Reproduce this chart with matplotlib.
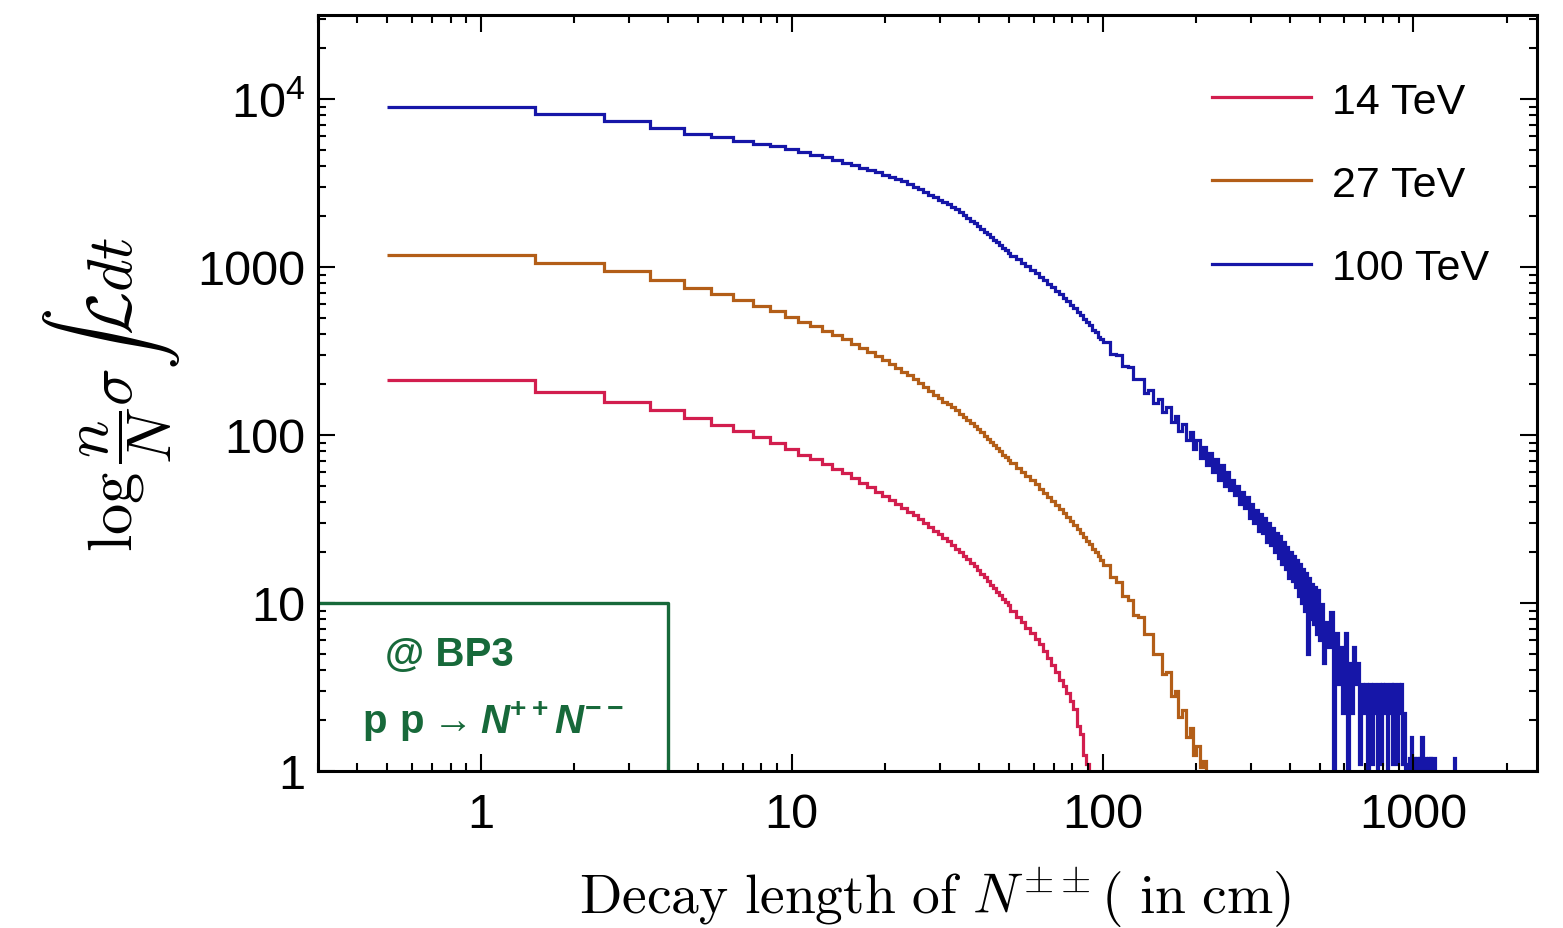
import numpy as np
import matplotlib
matplotlib.use("Agg")
import matplotlib.pyplot as plt
from matplotlib.ticker import NullFormatter

plt.rcParams['font.family'] = ['Liberation Sans', 'DejaVu Sans']
plt.rcParams['mathtext.fontset'] = 'cm'
plt.rcParams['mathtext.rm'] = 'Liberation Sans'
plt.rcParams['mathtext.bf'] = 'Liberation Sans:bold'
plt.rcParams['mathtext.bfit'] = 'Liberation Sans:italic:bold'

# bin edges (cm): width 1 up to 50, then 2, 5, 5, 10
edges = np.concatenate([np.arange(0.5, 50.6, 1), np.arange(52.5, 100.6, 2),
                        np.arange(105.5, 250.6, 5), np.arange(255.5, 500.6, 5),
                        np.arange(510.5, 1460.6, 10)])

# counts per bin
red_14 = [212, 180, 157, 140, 126, 115, 106, 97, 89, 82,
          76.5, 71.5, 67, 63, 59, 55.5, 52, 49, 46, 43.5,
          41, 39, 37, 35, 33.2, 31.5, 29.9, 28.4, 27, 25.7,
          24.5, 23.3, 22.2, 21.1, 20.1, 19.1, 18.2, 17.3, 16.5, 15.7,
          14.9, 14.2, 13.5, 12.8, 12.2, 11.6, 11.1, 10.6, 10.1, 9.7,
          9.0, 8.3, 7.7, 7.1, 6.6, 6.1, 5.7, 5.2, 4.7, 4.3,
          3.9, 3.5, 3.2, 2.9, 2.6, 2.35, 1.85, 1.65, 1.25, 1.1, 0]

orange_27 = [1180, 1055, 945, 835, 750, 688, 634, 587, 544, 505,
             472, 443, 417, 393, 371, 350, 331, 313, 296, 280,
             265, 251, 238, 226, 214, 203, 193, 183, 174, 165,
             158, 152, 146, 140, 134, 128, 123, 118, 113, 108,
             103.5, 99, 95, 91, 87, 83.5, 80, 76.5, 73.5, 70.5,
             68, 64, 60.5, 57, 54, 51, 48, 45, 42.5, 40.3,
             38.2, 36.2, 34.3, 32.5, 30.8, 29.2, 27.7, 26.2, 24.8, 23.5,
             22.3, 21.1, 20, 19, 18,
             16.8, 14.2, 13.3, 11.0, 10.4, 8.5, 8.2, 6.5, 6.5, 5.0,
             5.0, 3.8, 3.9, 2.8, 3.0, 2.1, 2.3, 1.6, 1.8, 1.25,
             1.4, 1.05, 1.15, 0.9, 0]

blue_100 = [8970, 8150, 7400, 6750, 6200, 5900, 5650, 5420, 5220, 5040,
            4850, 4660, 4490, 4330, 4170, 4030, 3900, 3780, 3660, 3550,
            3440, 3340, 3230, 3120, 3010, 2900, 2800, 2700, 2600, 2500,
            2430, 2370, 2285, 2200, 2120, 2040, 1965, 1890, 1820, 1755,
            1690, 1625, 1565, 1510, 1455, 1400, 1350, 1300, 1255, 1210,
            1170, 1115, 1063, 1013, 966, 920, 877, 836, 797, 760,
            724, 690, 658, 627, 598, 570, 543, 518, 493, 470,
            452, 422, 410, 384, 372,
            358, 305, 300, 258, 254, 214, 216, 179, 184, 154,
            163, 137, 146, 120, 130, 105, 116, 93, 104, 82,
            93, 73, 85, 66, 78, 60, 72, 54, 66, 50,
            60, 47, 54, 44, 50, 39, 46, 37, 43, 32,
            39, 30, 36, 27, 34, 26, 32, 23, 30, 22,
            28, 20, 26, 18.5, 25, 17, 23, 16, 21.5, 14,
            20, 13.5, 19, 12.5, 18, 11, 17, 10, 16, 9,
            15, 5, 14, 8, 13, 7.5, 12.5, 6.5, 12, 6,
            9.9, 4.4, 7.7, 5.5, 8.8, 0, 6.6, 3.3, 5.5, 2.2,
            6.6, 0, 4.4, 2.2, 5.5, 3.3, 4.4, 1.1, 3.3, 2.2,
            3.3, 0, 3.3, 1.1, 3.3, 2.2, 0, 3.3, 1.1, 3.3,
            2.2, 3.3, 0, 2.2, 3.3, 1.1, 3.3, 2.2, 1.1, 3.3,
            2.2, 3.3, 1.1, 2.2, 0, 1.1, 0,
            1.2, 1.6, 0, 1.2, 0, 1.2, 0, 1.2, 0, 1.6,
            0, 1.2, 1.2, 0, 1.2, 0, 1.2, 0, 1.2, 1.2, 0,
            0, 0, 0, 0, 0, 0, 0, 0, 0, 0,
            0, 0, 0, 0, 0, 0, 0,
            1.2,
            0, 0, 0, 0, 0, 0, 0, 0, 0, 0]

labels = ['14 TeV', '27 TeV', '100 TeV']
colors = ['#D21E4E', '#B35E18', '#1616A8']
series = [red_14, orange_27, blue_100]

fig = plt.figure(figsize=(15.63, 9.29), dpi=100)
ax = fig.add_axes([0.2035, 0.169, 0.78, 0.8138])

for vals, lab, col in zip(series, labels, colors):
    v = np.array(vals, dtype=float)
    v = np.where(v > 0, v, 1e-3)  # empty bins drop below the axis
    ax.stairs(v, edges[:len(v) + 1], color=col, lw=2.3, baseline=None, label=lab)

ax.set_xscale('log')
ax.set_yscale('log')
ax.set_xlim(0.3, 2500)
ax.set_ylim(1, 10**4.5)

# process box
green = '#17693A'
ax.plot([0.3, 4, 4], [10, 10, 1], color=green, lw=2.4)
ax.text(0.108, 0.155, '@ BP3', transform=ax.transAxes, color=green, fontsize=29,
        fontweight='bold', ha='center', va='center')
ax.text(0.143, 0.066, r'$\mathbf{p\ p}\rightarrow\mathbfit{N}^{\mathbf{++}}\mathbfit{N}^{\mathbf{--}}$',
        transform=ax.transAxes, color=green, fontsize=29, ha='center', va='center',
        math_fontfamily='custom')

ax.set_xticks([1, 10, 100, 1000])
ax.set_xticklabels(['1', '10', '100', '1000'], fontsize=35)
ax.set_yticks([1, 10, 100, 1000, 1e4])
ax.set_yticklabels(['1', '10', '100', '1000', r'$\mathregular{10^4}$'], fontsize=35,
                   math_fontfamily='custom')
ax.xaxis.set_minor_formatter(NullFormatter())
ax.yaxis.set_minor_formatter(NullFormatter())
ax.tick_params(which='both', direction='in', top=True, right=True, width=1.5)
ax.tick_params(which='major', length=12)
ax.tick_params(which='minor', length=6)
ax.tick_params(axis='x', pad=15)
ax.tick_params(axis='y', pad=9)
for s in ax.spines.values():
    s.set_linewidth(2.2)

ax.set_xlabel(r'$\mathrm{Decay\ length\ of\ }N^{\pm\pm}\mathrm{(\ in\ cm)}$', fontsize=40)
ax.xaxis.set_label_coords(0.506, -0.122)
ax.set_ylabel(r'$\log\dfrac{n}{N}\sigma\int\mathcal{L}dt$', fontsize=45)
ax.yaxis.set_label_coords(-0.112, 0.5)

ax.legend(loc='upper left', bbox_to_anchor=(0.733, 0.912), frameon=False, fontsize=31,
          handlelength=2.3, handletextpad=0.5, labelspacing=1.0, borderaxespad=0, borderpad=0)

fig.savefig('out.png', dpi=100)
